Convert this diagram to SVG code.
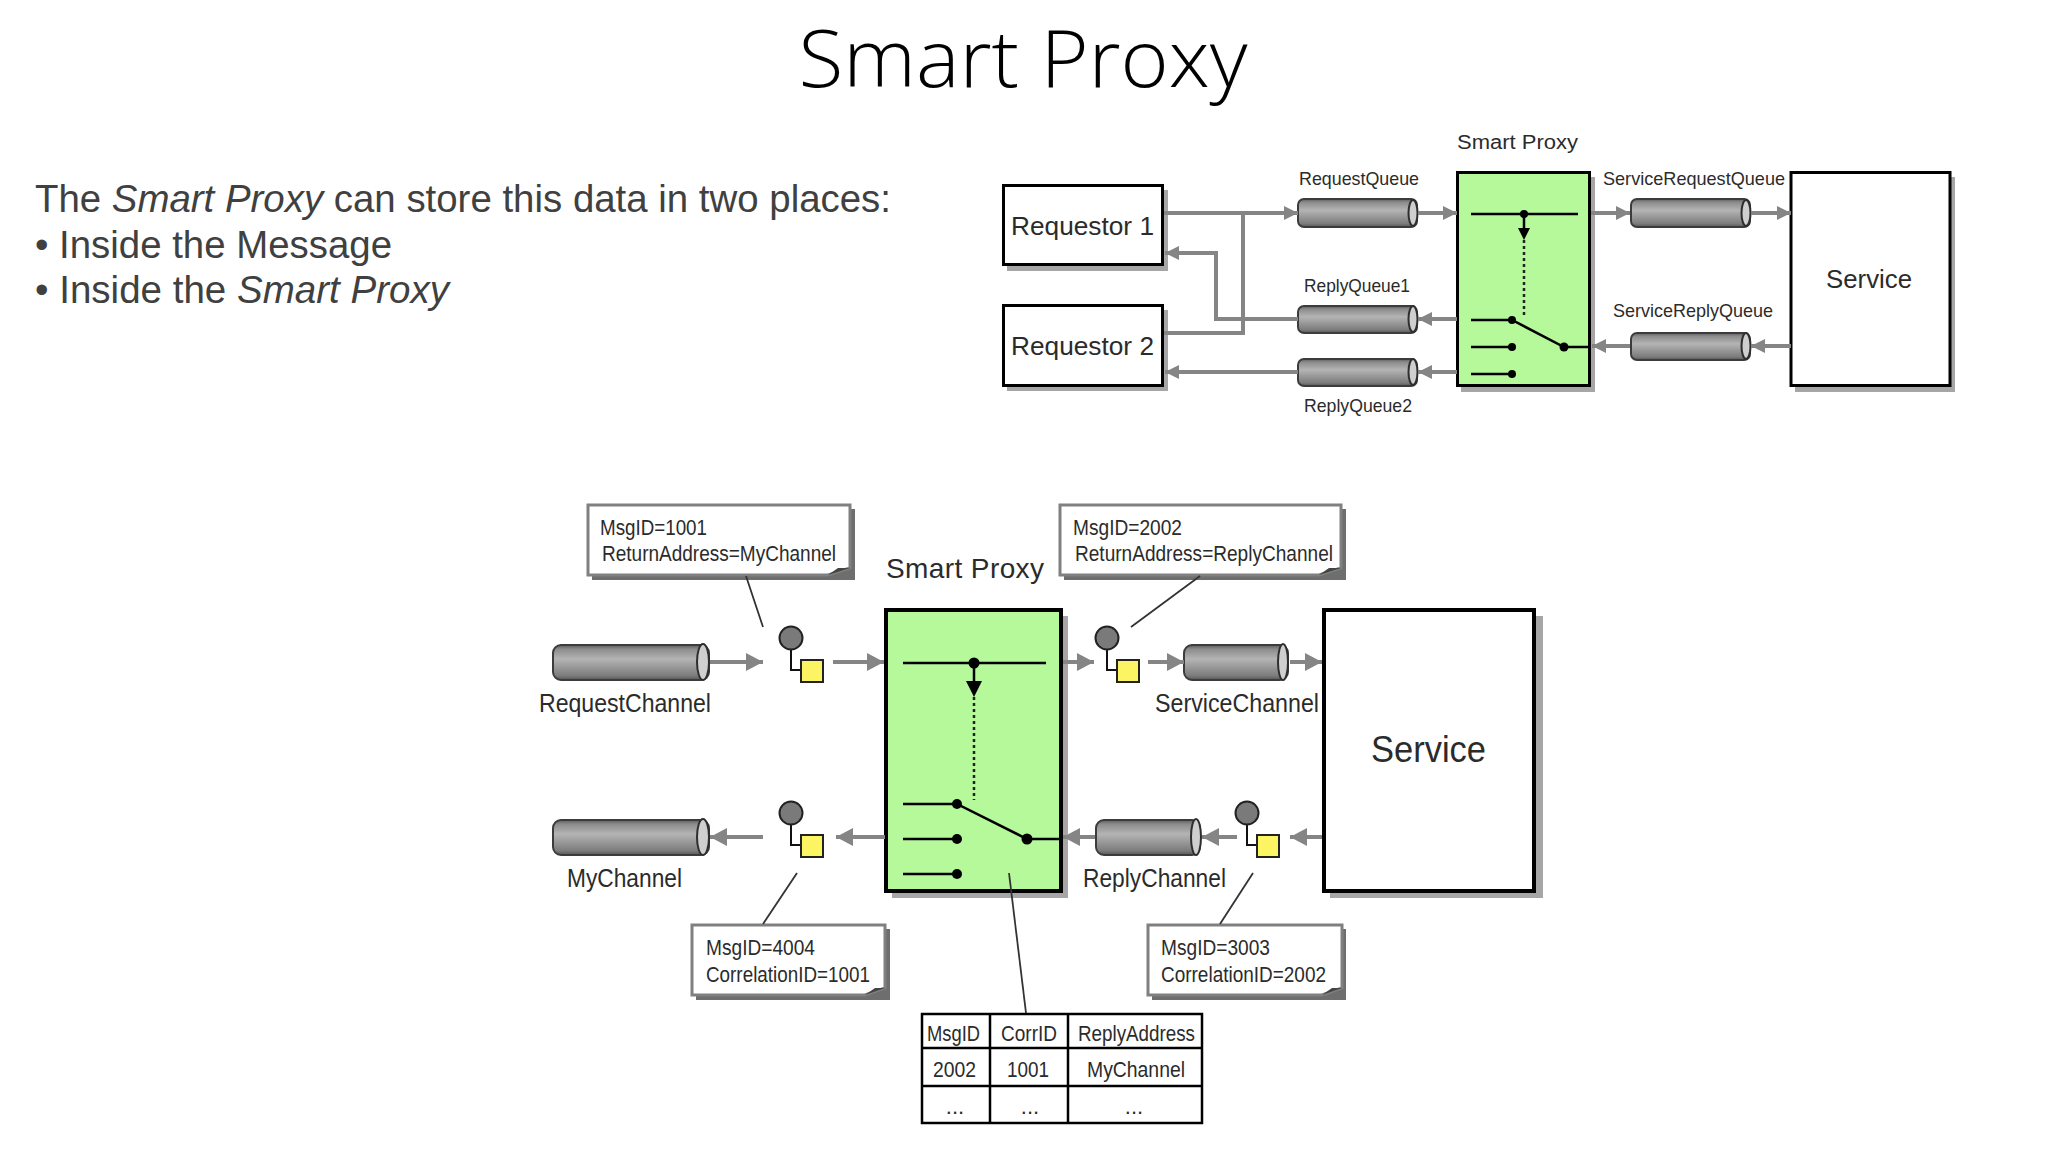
<svg xmlns="http://www.w3.org/2000/svg" width="2048" height="1152" viewBox="0 0 2048 1152">
<style>
text{font-family:"Liberation Sans",Arial,sans-serif;fill:#2b2b2b}
.title{font-family:"Open Sans","Noto Sans",sans-serif;font-weight:300;font-size:80px;fill:#000}
.body{font-size:38px;fill:#404040}
.t14{font-size:19px}
.t18{font-size:20px}
.t24{font-size:25px}
.t22{font-size:22px}
.t28{font-size:28px}
.t37{font-size:37px}
.box{fill:#fff;stroke:#000}
.green{fill:#b5f99b;stroke:#000}
.shadow{fill:#a6a6a6}
.q{fill:url(#qg);stroke:#3c3c3c;stroke-width:2}
.qe{fill:#cfcfcf;stroke:#2e2e2e;stroke-width:2}
.a{fill:none;stroke:#858585;stroke-width:4}
.as{marker-end:url(#ahs)}
.al{marker-end:url(#ahl)}
.b{fill:none;stroke:#000;stroke-width:2.5}
.ln{fill:none;stroke:#333;stroke-width:1.8}
.dot{fill:#000}
.dots{fill:none;stroke:#222;stroke-width:2.5;stroke-dasharray:3 3}
.circ{fill:#7a7a7a;stroke:#222;stroke-width:2}
.sq{fill:#fdf463;stroke:#222;stroke-width:2}
.conn{fill:none;stroke:#111;stroke-width:2}
.cb{fill:#fff;stroke:#808080;stroke-width:3}
.cs{fill:#6e6e6e}
.fold{fill:#444}
.tb{fill:#fff;stroke:#000;stroke-width:2.5}
</style>
<defs>
<linearGradient id="qg" x1="0" y1="0" x2="0" y2="1">
<stop offset="0" stop-color="#5e5e5e"/><stop offset=".12" stop-color="#8c8c8c"/><stop offset=".4" stop-color="#b4b4b4"/><stop offset=".88" stop-color="#7c7c7c"/><stop offset="1" stop-color="#555"/>
</linearGradient>
<marker id="ahs" markerUnits="userSpaceOnUse" markerWidth="15" markerHeight="14" refX="14" refY="7" orient="auto"><path d="M0 0L14 7L0 14z" fill="#858585"/></marker>
<marker id="ahl" markerUnits="userSpaceOnUse" markerWidth="18" markerHeight="18" refX="17" refY="9" orient="auto"><path d="M0 0L17 9L0 18z" fill="#858585"/></marker>
</defs>

<text class="title" x="1023" y="87" text-anchor="middle" textLength="449" lengthAdjust="spacingAndGlyphs">Smart Proxy</text>
<g id="intro">
<text class="body" x="35" y="212" textLength="856" lengthAdjust="spacingAndGlyphs">The <tspan font-style="italic">Smart Proxy</tspan> can store this data in two places:</text>
<text class="body" x="35" y="258" textLength="357" lengthAdjust="spacingAndGlyphs">• Inside the Message</text>
<text class="body" x="35" y="303" textLength="414" lengthAdjust="spacingAndGlyphs">• Inside the <tspan font-style="italic">Smart Proxy</tspan></text>
</g>

<g id="requestor1"><rect class="shadow" x="1007" y="190" width="161" height="81"/><rect class="box" stroke-width="3" x="1003.500" y="185.500" width="159" height="79"/><text class="t24" x="1011" y="235" textLength="143" lengthAdjust="spacingAndGlyphs">Requestor 1</text></g>
<g id="requestor2"><rect class="shadow" x="1007" y="310" width="161" height="81"/><rect class="box" stroke-width="3" x="1003.500" y="305.500" width="159" height="80"/><text class="t24" x="1011" y="355" textLength="143" lengthAdjust="spacingAndGlyphs">Requestor 2</text></g>

<g id="proxy-top">
<text class="t18" x="1457" y="149" textLength="121" lengthAdjust="spacingAndGlyphs">Smart Proxy</text>
<rect class="shadow" x="1461" y="177" width="134" height="215"/>
<rect class="green" stroke-width="3" x="1457.500" y="172.500" width="132" height="213"/>
<path class="b" d="M1471 214H1578"/><circle class="dot" cx="1524" cy="214" r="4"/>
<path class="b" d="M1524 214V230"/><path class="dot" d="M1518 228H1530L1524 240z"/>
<path class="dots" d="M1524 240V318"/>
<path class="b" d="M1471 320H1512L1564 347H1590M1471 347H1512M1471 374H1512"/>
<circle class="dot" cx="1512" cy="320" r="4"/><circle class="dot" cx="1512" cy="347" r="4"/><circle class="dot" cx="1512" cy="374" r="4"/><circle class="dot" cx="1564" cy="347" r="4.500"/>
</g>

<g id="service-top"><rect class="shadow" x="1795" y="177" width="160" height="215"/><rect class="box" stroke-width="3" x="1791" y="172.500" width="159" height="213"/><text class="t24" x="1826" y="288" textLength="86" lengthAdjust="spacingAndGlyphs">Service</text></g>

<g id="q-request"><rect class="q" x="1298" y="199" width="119" height="28" rx="6"/><ellipse class="qe" cx="1413" cy="213" rx="4.500" ry="13"/><text class="t14" x="1299" y="185" textLength="120" lengthAdjust="spacingAndGlyphs">RequestQueue</text></g>
<g id="q-reply1"><rect class="q" x="1298" y="306" width="119" height="27" rx="6"/><ellipse class="qe" cx="1413" cy="319" rx="4.500" ry="13"/><text class="t14" x="1304" y="292" textLength="106" lengthAdjust="spacingAndGlyphs">ReplyQueue1</text></g>
<g id="q-reply2"><rect class="q" x="1298" y="359" width="119" height="27" rx="6"/><ellipse class="qe" cx="1413" cy="372" rx="4.500" ry="13"/><text class="t14" x="1304" y="412" textLength="108" lengthAdjust="spacingAndGlyphs">ReplyQueue2</text></g>
<g id="q-svcreq"><rect class="q" x="1631" y="199" width="119" height="28" rx="6"/><ellipse class="qe" cx="1746" cy="213" rx="4.500" ry="13"/><text class="t14" x="1603" y="185" textLength="182" lengthAdjust="spacingAndGlyphs">ServiceRequestQueue</text></g>
<g id="q-svcreply"><rect class="q" x="1631" y="333" width="119" height="27" rx="6"/><ellipse class="qe" cx="1746" cy="346" rx="4.500" ry="13"/><text class="t14" x="1613" y="317" textLength="160" lengthAdjust="spacingAndGlyphs">ServiceReplyQueue</text></g>

<g id="callout-1001"><path class="cs" d="M592 509H855V580H592z"/><path class="cb" d="M588 505H850V568L828 575H588z"/><path class="fold" d="M850 568L828 575L838 568z"/><text class="t22" x="600" y="535" textLength="107" lengthAdjust="spacingAndGlyphs">MsgID=1001</text><text class="t22" x="602" y="561" textLength="234" lengthAdjust="spacingAndGlyphs">ReturnAddress=MyChannel</text></g>
<g id="callout-2002"><path class="cs" d="M1064 509H1346V580H1064z"/><path class="cb" d="M1060 505H1341V568L1319 575H1060z"/><path class="fold" d="M1341 568L1319 575L1329 568z"/><text class="t22" x="1073" y="535" textLength="109" lengthAdjust="spacingAndGlyphs">MsgID=2002</text><text class="t22" x="1075" y="561" textLength="258" lengthAdjust="spacingAndGlyphs">ReturnAddress=ReplyChannel</text></g>
<g id="callout-4004"><path class="cs" d="M696 929H890V1000H696z"/><path class="cb" d="M692 925H885V988L865 995H692z"/><path class="fold" d="M885 988L865 995L875 988z"/><text class="t22" x="706" y="955" textLength="109" lengthAdjust="spacingAndGlyphs">MsgID=4004</text><text class="t22" x="706" y="982" textLength="164" lengthAdjust="spacingAndGlyphs">CorrelationID=1001</text></g>
<g id="callout-3003"><path class="cs" d="M1152 929H1346V1000H1152z"/><path class="cb" d="M1148 925H1342V988L1322 995H1148z"/><path class="fold" d="M1342 988L1322 995L1332 988z"/><text class="t22" x="1161" y="955" textLength="109" lengthAdjust="spacingAndGlyphs">MsgID=3003</text><text class="t22" x="1161" y="982" textLength="165" lengthAdjust="spacingAndGlyphs">CorrelationID=2002</text></g>

<g id="q-requestchannel"><rect class="q" x="553" y="645" width="156" height="35" rx="8"/><ellipse class="qe" cx="703" cy="662" rx="6" ry="18"/><text class="t24" x="539" y="712" textLength="172" lengthAdjust="spacingAndGlyphs">RequestChannel</text></g>
<g id="q-mychannel"><rect class="q" x="553" y="820" width="156" height="35" rx="8"/><ellipse class="qe" cx="703" cy="837" rx="6" ry="18"/><text class="t24" x="567" y="887" textLength="115" lengthAdjust="spacingAndGlyphs">MyChannel</text></g>
<g id="q-servicechannel"><rect class="q" x="1184" y="645" width="104" height="35" rx="8"/><ellipse class="qe" cx="1283" cy="662" rx="5" ry="18"/><text class="t24" x="1155" y="712" textLength="164" lengthAdjust="spacingAndGlyphs">ServiceChannel</text></g>
<g id="q-replychannel"><rect class="q" x="1096" y="820" width="104" height="35" rx="8"/><ellipse class="qe" cx="1196" cy="837" rx="5" ry="18"/><text class="t24" x="1083" y="887" textLength="143" lengthAdjust="spacingAndGlyphs">ReplyChannel</text></g>

<g id="id-1"><path class="conn" d="M791 648V670H801"/><circle class="circ" cx="791" cy="638" r="11.500"/><rect class="sq" x="801" y="660" width="22" height="22"/></g>
<g id="id-2"><path class="conn" d="M791 823V845H801"/><circle class="circ" cx="791" cy="813" r="11.500"/><rect class="sq" x="801" y="835" width="22" height="22"/></g>
<g id="id-3"><path class="conn" d="M1107 648V670H1117"/><circle class="circ" cx="1107" cy="638" r="11.500"/><rect class="sq" x="1117" y="660" width="22" height="22"/></g>
<g id="id-4"><path class="conn" d="M1247 823V845H1257"/><circle class="circ" cx="1247" cy="813" r="11.500"/><rect class="sq" x="1257" y="835" width="22" height="22"/></g>

<g id="proxy-main">
<text class="t28" x="886" y="578" textLength="158" lengthAdjust="spacing">Smart Proxy</text>
<rect class="shadow" x="892" y="616" width="176" height="282"/>
<rect class="green" stroke-width="4" x="886" y="610" width="175" height="281"/>
<path class="b" d="M903 663H1046"/><circle class="dot" cx="974" cy="663" r="5.500"/>
<path class="b" d="M974 663V685"/><path class="dot" d="M966 681H982L974 697z"/>
<path class="dots" d="M974 697V800"/>
<path class="b" d="M903 804H957L1027 839H1060M903 839H957M903 874H957"/>
<circle class="dot" cx="957" cy="804" r="5"/><circle class="dot" cx="957" cy="839" r="5"/><circle class="dot" cx="957" cy="874" r="5"/><circle class="dot" cx="1027" cy="839" r="5.500"/>
</g>

<g id="service-main"><rect class="shadow" x="1330" y="616" width="213" height="282"/><rect class="box" stroke-width="4" x="1324" y="610" width="210" height="281"/><text class="t37" x="1371" y="762" textLength="115" lengthAdjust="spacingAndGlyphs">Service</text></g>

<g id="table">
<rect class="tb" x="922" y="1014" width="280" height="109"/>
<path class="tb" d="M990 1014V1123M1068 1014V1123M922 1048H1202M922 1086H1202"/>
<text class="t22" x="927" y="1041" textLength="53" lengthAdjust="spacingAndGlyphs">MsgID</text>
<text class="t22" x="1001" y="1041" textLength="56" lengthAdjust="spacingAndGlyphs">CorrID</text>
<text class="t22" x="1078" y="1041" textLength="117" lengthAdjust="spacingAndGlyphs">ReplyAddress</text>
<text class="t22" x="933" y="1077" textLength="43" lengthAdjust="spacingAndGlyphs">2002</text>
<text class="t22" x="1007" y="1077" textLength="42" lengthAdjust="spacingAndGlyphs">1001</text>
<text class="t22" x="1087" y="1077" textLength="98" lengthAdjust="spacingAndGlyphs">MyChannel</text>
<text class="t22" x="955" y="1114" text-anchor="middle">...</text>
<text class="t22" x="1030" y="1114" text-anchor="middle">...</text>
<text class="t22" x="1134" y="1114" text-anchor="middle">...</text>
</g>

<g id="connectors">
<path class="a as" d="M1164 213H1298"/>
<path class="a" d="M1164 333H1243V213"/>
<path class="a as" d="M1298 319H1216V253H1165"/>
<path class="a as" d="M1298 372H1165"/>
<path class="a as" d="M1418 213H1457"/>
<path class="a as" d="M1591 213H1630"/>
<path class="a as" d="M1751 213H1791"/>
<path class="a as" d="M1457 319H1418"/>
<path class="a as" d="M1457 372H1418"/>
<path class="a as" d="M1791 346H1751"/>
<path class="a as" d="M1630 346H1592"/>
<path class="a al" d="M710 662H763"/>
<path class="a al" d="M833 662H884"/>
<path class="a al" d="M763 837H710"/>
<path class="a al" d="M885 837H836"/>
<path class="a al" d="M1063 662H1094"/>
<path class="a al" d="M1148 662H1184"/>
<path class="a al" d="M1290 662H1322"/>
<path class="a al" d="M1322 837H1290"/>
<path class="a al" d="M1237 837H1202"/>
<path class="a al" d="M1095 837H1063"/>
<path class="ln" d="M746 576L763 627"/>
<path class="ln" d="M1200 576L1131 627"/>
<path class="ln" d="M763 924L797 873"/>
<path class="ln" d="M1220 924L1253 873"/>
<path class="ln" d="M1009 873L1026 1013"/>
</g>
</svg>
